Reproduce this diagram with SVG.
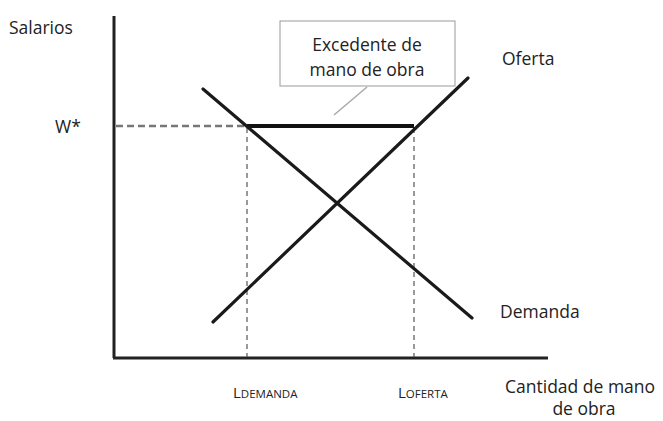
<svg xmlns="http://www.w3.org/2000/svg" width="663" height="421" viewBox="0 0 663 421">
<style>
.t{font-family:"Open Sans","Noto Sans","DejaVu Sans",sans-serif;font-size:17.5px;fill:#222}
.s{font-size:11.5px}
.axis{stroke:#222;stroke-width:3;fill:none}
.curve{stroke:#1a1a1a;stroke-width:3.2;fill:none;stroke-linecap:round}
.dash{stroke:#555;stroke-width:1.2;stroke-dasharray:5,4;fill:none}
.dashH{stroke:#777;stroke-width:2.5;stroke-dasharray:7,4;fill:none}
</style>
<rect width="663" height="421" fill="#fff"/>
<g id="axes">
<line class="axis" x1="114" y1="16" x2="114" y2="358"/>
<line class="axis" x1="113" y1="358" x2="548" y2="358"/>
</g>
<g id="connectors">
<line class="dashH" x1="116" y1="126" x2="246" y2="126"/>
<line class="dash" x1="247" y1="128" x2="247" y2="357"/>
<line class="dash" x1="414" y1="128" x2="414" y2="357"/>
<line stroke="#aaa" stroke-width="1.5" x1="367" y1="87" x2="334" y2="115"/>
</g>
<g id="surplus">
<line stroke="#111" stroke-width="4" x1="247" y1="126" x2="414" y2="126"/>
</g>
<g id="demanda-curve">
<line class="curve" x1="203" y1="89" x2="472" y2="318"/>
</g>
<g id="oferta-curve">
<line class="curve" x1="213" y1="322" x2="468" y2="78"/>
</g>
<g id="callout">
<rect x="280" y="21" width="175" height="65" fill="#fff" stroke="#999" stroke-width="1"/>
<text class="t" x="367" y="51" text-anchor="middle">Excedente de</text>
<text class="t" x="367" y="76" text-anchor="middle">mano de obra</text>
</g>
<g id="labels">
<text class="t" x="9" y="34">Salarios</text>
<text class="t" x="55" y="133">W*</text>
<text class="t" x="502" y="65">Oferta</text>
<text class="t" x="500" y="318">Demanda</text>
<text class="t" x="505" y="393">Cantidad de mano</text>
<text class="t" x="584" y="415" text-anchor="middle">de obra</text>
<text class="t" x="233" y="398" style="font-size:15px">L<tspan class="s">DEMANDA</tspan></text>
<text class="t" x="398" y="398" style="font-size:15px">L<tspan class="s">OFERTA</tspan></text>
</g>
</svg>
